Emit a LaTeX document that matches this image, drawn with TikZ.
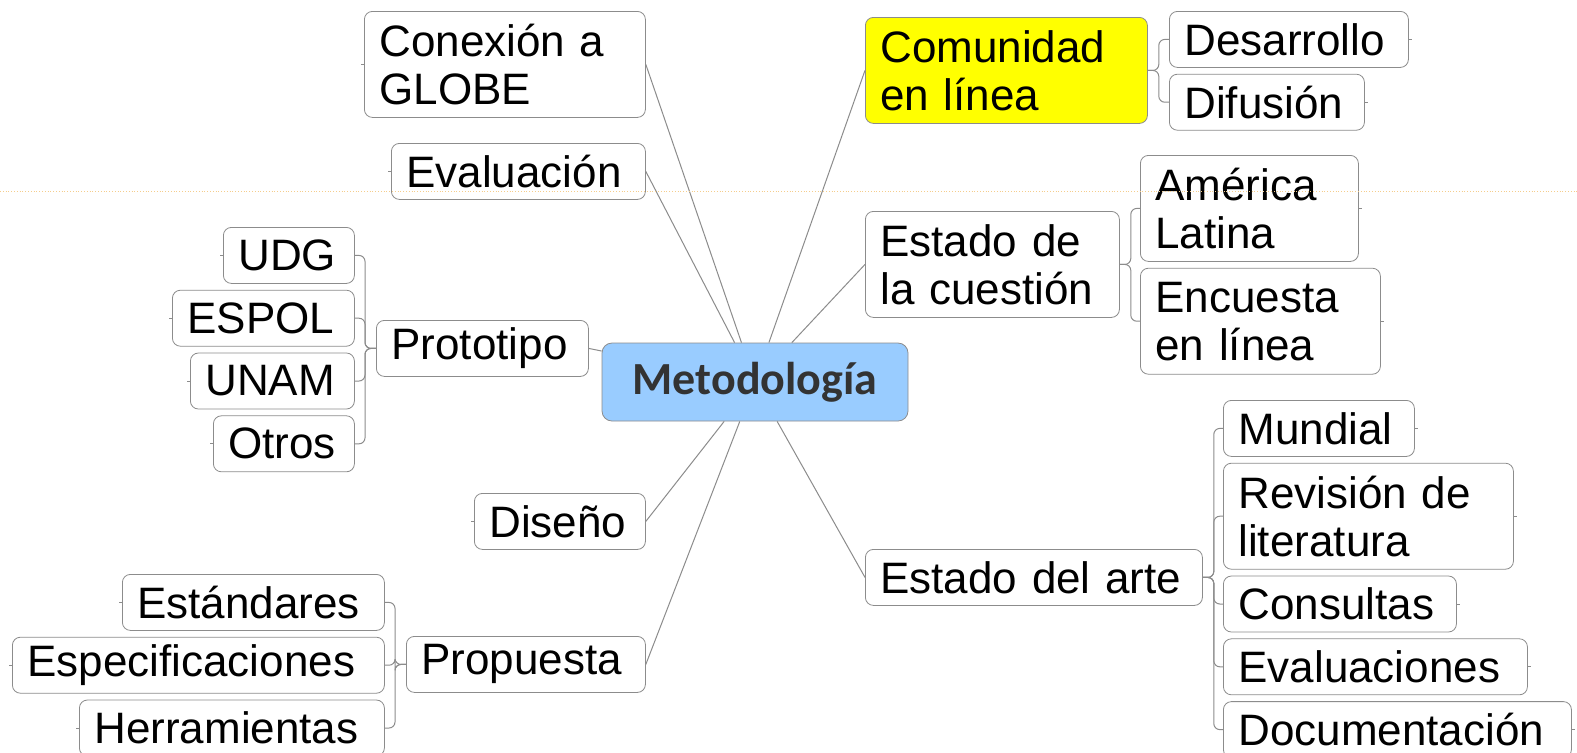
\documentclass[tikz,border=0pt]{standalone}
\usepackage{fontspec}
\setmainfont{Liberation Sans}
\newfontfamily\hubfont{Carlito}
\usepackage{tikz}
\usetikzlibrary{positioning, calc}
\definecolor{hubblue}{RGB}{153,204,255}
\definecolor{hubtext}{RGB}{51,51,51}
\definecolor{frame}{RGB}{140,140,140}
\definecolor{guide}{RGB}{245,205,140}
\definecolor{hilite}{RGB}{255,255,0}

\begin{document}
\begin{tikzpicture}[
    x=0.5pt, y=-0.5pt,
    box/.style={rectangle, draw=frame, rounded corners=4pt, fill=white, inner xsep=7.5pt, inner ysep=0pt, align=left, anchor=north west, font=\fontsize{22}{24}\selectfont},
    single/.style={minimum height=28pt},
    double/.style={minimum height=53pt},
    hub/.style={rectangle, draw=frame, rounded corners=5pt, fill=hubblue, minimum width=153pt, minimum height=39pt, font=\hubfont\bfseries\fontsize{23}{25}\selectfont, text=hubtext},
    link/.style={draw=frame, line width=0.5pt},
    fork/.style={link, rounded corners=3pt}
]
\useasboundingbox (0,0) rectangle (1577,752);
\fill[white] (0,0) rectangle (1577,752);

% Centre
\node[hub] (met) at (755,382) {Metodolog\'{\i}a};

% Left branches
\node[box, double, text width=125.5pt] (globe) at (364,11) {Conexión a\\GLOBE};
\node[box, single, text width=112pt] (evalua) at (391,143) {Evaluación};
\node[box, single, text width=91pt] (proto) at (376,320) {Prototipo};
\node[box, single, text width=70.5pt] (diseno) at (474,493) {Diseño};
\node[box, single, text width=104.5pt] (prop) at (406,636) {Propuesta};

% Prototipo children
\node[box, single, text width=50.5pt] (udg) at (223,227) {UDG};
\node[box, single, text width=76pt, below=3pt of udg.south east, anchor=north east] (espol) {ESPOL};
\node[box, single, text width=67pt, below=3pt of espol.south east, anchor=north east] (unam) {UNAM};
\node[box, single, text width=55.5pt, below=3pt of unam.south east, anchor=north east] (otros) {Otros};

% Propuesta children
\node[box, single, text width=116pt] (estand) at (122,574) {Estándares};
\node[box, single, text width=171pt, below=3pt of estand.south east, anchor=north east] (espec) {Especificaciones};
\node[box, single, text width=137.5pt, below=3pt of espec.south east, anchor=north east] (herr) {Herramientas};

% Right branches
\node[box, double, fill=hilite, text width=126pt] (comun) at (865,17) {Comunidad\\en línea};
\node[box, double, text width=112pt] (estcues) at (865,211) {Estado de\\la cuestión};
\node[box, single, text width=153.5pt] (estarte) at (865,549) {Estado del arte};

% Comunidad children
\node[box, single, text width=104.5pt] (desarr) at (1169,11) {Desarrollo};
\node[box, single, text width=82.5pt, below=3pt of desarr.south west, anchor=north west] (difus) {Difusión};

% Estado de la cuestion children
\node[box, double, text width=94pt] (amer) at (1140,155) {América\\Latina};
\node[box, double, text width=105pt, below=3pt of amer.south west, anchor=north west] (encu) {Encuesta\\en línea};

% Estado del arte children
\node[box, single, text width=80.5pt] (mund) at (1223,400) {Mundial};
\node[box, double, text width=130pt, below=3pt of mund.south west, anchor=north west] (revis) {Revisión de\\literatura};
\node[box, single, text width=101.5pt, below=3pt of revis.south west, anchor=north west] (consul) {Consultas};
\node[box, single, text width=137pt, below=3pt of consul.south west, anchor=north west] (evalu) {Evaluaciones};
\node[box, single, text width=159pt, below=3pt of evalu.south west, anchor=north west] (docu) {Documentación};

% Main links
\foreach \b in {globe,evalua,proto,diseno,prop}
    \draw[link] (met) -- (\b.east);
\foreach \b in {comun,estcues,estarte}
    \draw[link] (met) -- (\b.west);

% Forks
\foreach \c in {udg,espol,unam,otros}
    \draw[fork] (proto.west) -- ++(-11,0) |- (\c.east);
\foreach \c in {estand,espec,herr}
    \draw[fork] (prop.west) -- ++(-11,0) |- (\c.east);
\foreach \c in {desarr,difus}
    \draw[fork] (comun.east) -- ++(11,0) |- (\c.west);
\foreach \c in {amer,encu}
    \draw[fork] (estcues.east) -- ++(11,0) |- (\c.west);
\foreach \c in {mund,revis,consul,evalu,docu}
    \draw[fork] (estarte.east) -- ++(11,0) |- (\c.west);

% Leaf stubs
\foreach \c in {globe,evalua,diseno,udg,espol,unam,otros,estand,espec,herr}
    \draw[link] (\c.west) -- ++(-3,0);
\foreach \c in {desarr,difus,amer,encu,mund,revis,consul,evalu,docu}
    \draw[link] (\c.east) -- ++(3,0);

% Guide
\draw[guide, densely dotted, line width=0.4pt] (0,191) -- (1577,191);

\end{tikzpicture}
\end{document}
